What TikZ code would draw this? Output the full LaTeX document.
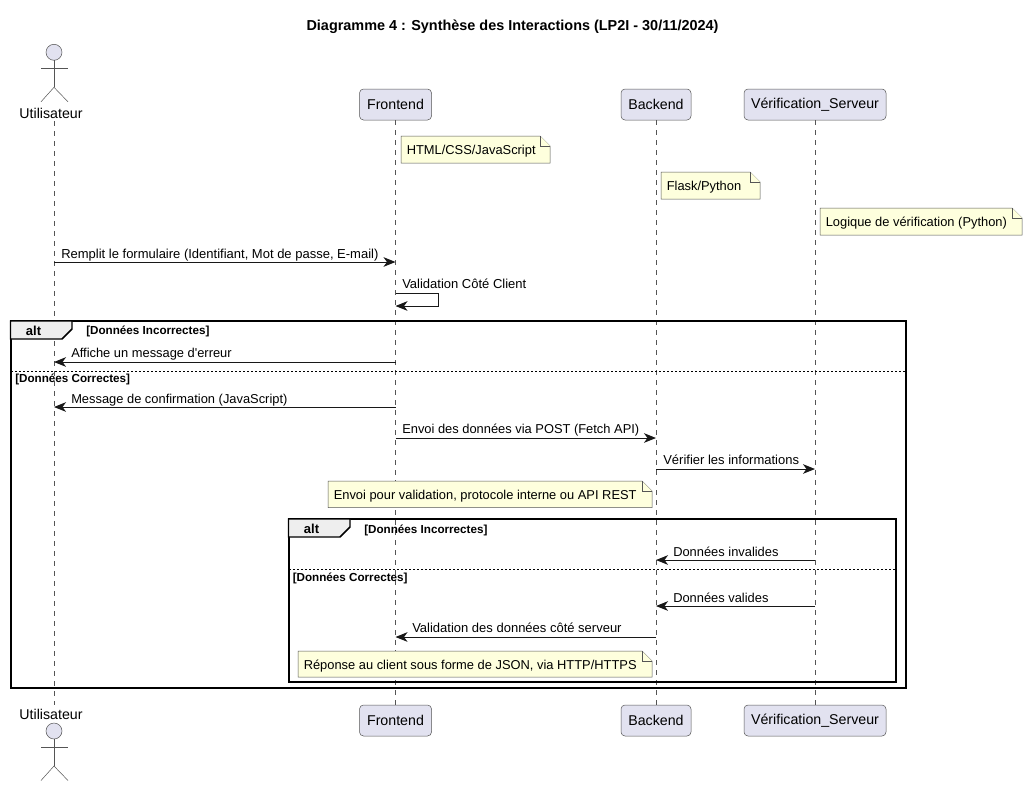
\documentclass[tikz,border=0pt]{standalone}
\usepackage{fontspec}
\setmainfont{Liberation Sans}
\usetikzlibrary{arrows.meta}
\definecolor{partfill}{HTML}{E2E2F0}
\definecolor{notefill}{HTML}{FEFFDD}
\definecolor{ink}{HTML}{181818}
\definecolor{softink}{HTML}{555555}
\definecolor{tabfill}{HTML}{EEEEEE}
\tikzset{
  px/.style={x=0.75pt,y=-0.75pt},
  part/.style={draw=softink,line width=0.38pt,fill=partfill,rounded corners=3pt,minimum width=#1*0.75pt,minimum height=23.25pt,inner sep=0pt,font=\fontsize{10.65pt}{12pt}\selectfont,text=black},
  actorlabel/.style={inner sep=0pt,font=\fontsize{10.65pt}{12pt}\selectfont,anchor=base},
  actorshape/.style={draw=softink,line width=0.38pt},
  life/.style={draw=softink,line width=0.38pt,dash pattern=on 3.75pt off 3.75pt},
  msg/.style={draw=ink,line width=0.75pt,-{Stealth[length=9pt,width=7.2pt,inset=2.6pt,color=ink]}},
  msgtext/.style={inner sep=0pt,anchor=base west,font=\fontsize{9.75pt}{12pt}\selectfont},
  msgtight/.style={inner sep=0pt,anchor=base west,font=\fontsize{9.66pt}{12pt}\selectfont},
  notetext/.style={inner sep=0pt,anchor=base west,font=\fontsize{9.66pt}{12pt}\selectfont},
  noteshape/.style={draw=softink,line width=0.38pt,fill=notefill},
  frameline/.style={draw=black,line width=1.5pt},
  tabshape/.style={draw=black,line width=1.1pt,fill=tabfill},
  divider/.style={draw=black,line width=0.75pt,dash pattern=on 1.5pt off 1.5pt},
  alttext/.style={inner sep=0pt,anchor=base,font=\bfseries\fontsize{9.75pt}{12pt}\selectfont},
  guard/.style={inner sep=0pt,anchor=base west,font=\bfseries\fontsize{8.75pt}{10pt}\selectfont},
}
\newcommand{\notebox}[6]{%
  \draw[noteshape] (#2,#3) -- (#4-10,#3) -- (#4,#3+10) -- (#4,#5) -- (#2,#5) -- cycle;
  \draw[noteshape] (#4-10,#3) -- (#4-10,#3+10) -- (#4,#3+10);
  \node[notetext] (#1) at (#2+5.5,#3+18.5) {#6};
}
\newcommand{\actorfig}[1]{%
  \draw[actorshape,fill=partfill] (54,#1) circle[radius=8];
  \draw[actorshape] (54,#1+8) -- (54,#1+35);
  \draw[actorshape] (41,#1+16) -- (68,#1+16);
  \draw[actorshape] (41,#1+49.5) -- (54,#1+35) -- (68,#1+49.5);
}
\begin{document}
\begin{tikzpicture}[px]
\useasboundingbox (0,0) rectangle (1027,786);
\fill[white] (0,0) rectangle (1027,786);
% title
\node[inner sep=0pt,anchor=base,font=\bfseries\fontsize{10.82pt}{12pt}\selectfont] (title) at (512.5,30) {Diagramme 4 : Synthèse des Interactions (LP2I - 30/11/2024)};
% lifelines anchors
\coordinate (utop) at (54,121);
\coordinate (ubot) at (54,705);
\node[part=72] (ftop) at (395.5,104.5) {Frontend};
\node[part=72] (fbot) at (395.5,720.5) {Frontend};
\node[part=70] (btop) at (656,104.5) {Backend};
\node[part=70] (bbot) at (656,720.5) {Backend};
\node[part=142] (vtop) at (815,104.5) {Vérification\_Serveur};
\node[part=142] (vbot) at (815,720.5) {Vérification\_Serveur};
\draw[life] (utop) -- (ubot);
\draw[life] (ftop) -- (fbot);
\draw[life] (btop) -- (bbot);
\draw[life] (vtop) -- (vbot);
% actors
\actorfig{52.3}
\node[actorlabel] (ulabtop) at (51,118) {Utilisateur};
\node[actorlabel] (ulabbot) at (51,719) {Utilisateur};
\actorfig{731}
% notes top
\notebox{n1}{401}{136}{550}{163}{HTML/CSS/JavaScript}
\notebox{n2}{661}{172}{760}{199}{Flask/Python}
\notebox{n3}{820}{208}{1022}{235}{Logique de vérification (Python)}
% messages
\draw[msg] (utop |- 0,262) -- (ftop |- 0,262);
\node[msgtext] (t1) at (61,258) {Remplit le formulaire (Identifiant, Mot de passe, E-mail)};
\draw[msg] (ftop |- 0,293) -- (438,293) -- (438,306) -- (ftop |- 0,306);
\node[msgtext] (t2) at (402,288) {Validation Côté Client};
% outer frame
\draw[frameline] (10.5,321) rectangle (906,688);
\draw[tabshape] (10.5,321) -- (72,321) -- (72,329) -- (62,339) -- (10.5,339) -- cycle;
\node[alttext] (a1) at (33.5,335) {alt};
\node[guard] (g1) at (86,334) {[Données Incorrectes]};
\draw[divider] (11,371) -- (906,371);
\node[guard] (g2) at (15,382) {[Données Correctes]};
\draw[msg] (ftop |- 0,362) -- (utop |- 0,362);
\node[msgtight] (t3) at (71,357.5) {Affiche un message d\textquotesingle erreur};
\draw[msg] (ftop |- 0,407) -- (utop |- 0,407);
\node[msgtight] (t4) at (71,403) {Message de confirmation (JavaScript)};
\draw[msg] (ftop |- 0,438) -- (btop |- 0,438);
\node[msgtight] (t5) at (402,433) {Envoi des données via POST (Fetch API)};
\draw[msg] (btop |- 0,469) -- (vtop |- 0,469);
\node[msgtext] (t6) at (663,464) {Vérifier les informations};
\notebox{n4}{328}{481}{652}{507.5}{Envoi pour validation, protocole interne ou API REST}
% inner frame
\draw[frameline] (288.5,519) rectangle (896,682);
\draw[tabshape] (288.5,519) -- (350,519) -- (350,527) -- (340,537) -- (288.5,537) -- cycle;
\node[alttext] (a2) at (311.5,533) {alt};
\node[guard] (g3) at (364,533) {[Données Incorrectes]};
\draw[divider] (289,569) -- (896,569);
\node[guard] (g4) at (292.5,581) {[Données Correctes]};
\draw[msg] (vtop |- 0,560) -- (btop |- 0,560);
\node[msgtight] (t7) at (673,556) {Données invalides};
\draw[msg] (vtop |- 0,606) -- (btop |- 0,606);
\node[msgtight] (t8) at (673,602) {Données valides};
\draw[msg] (btop |- 0,637) -- (ftop |- 0,637);
\node[msgtext] (t9) at (412,632) {Validation des données côté serveur};
\notebox{n5}{298}{651}{652}{677}{Réponse au client sous forme de JSON, via HTTP/HTTPS}
\end{tikzpicture}
\end{document}
